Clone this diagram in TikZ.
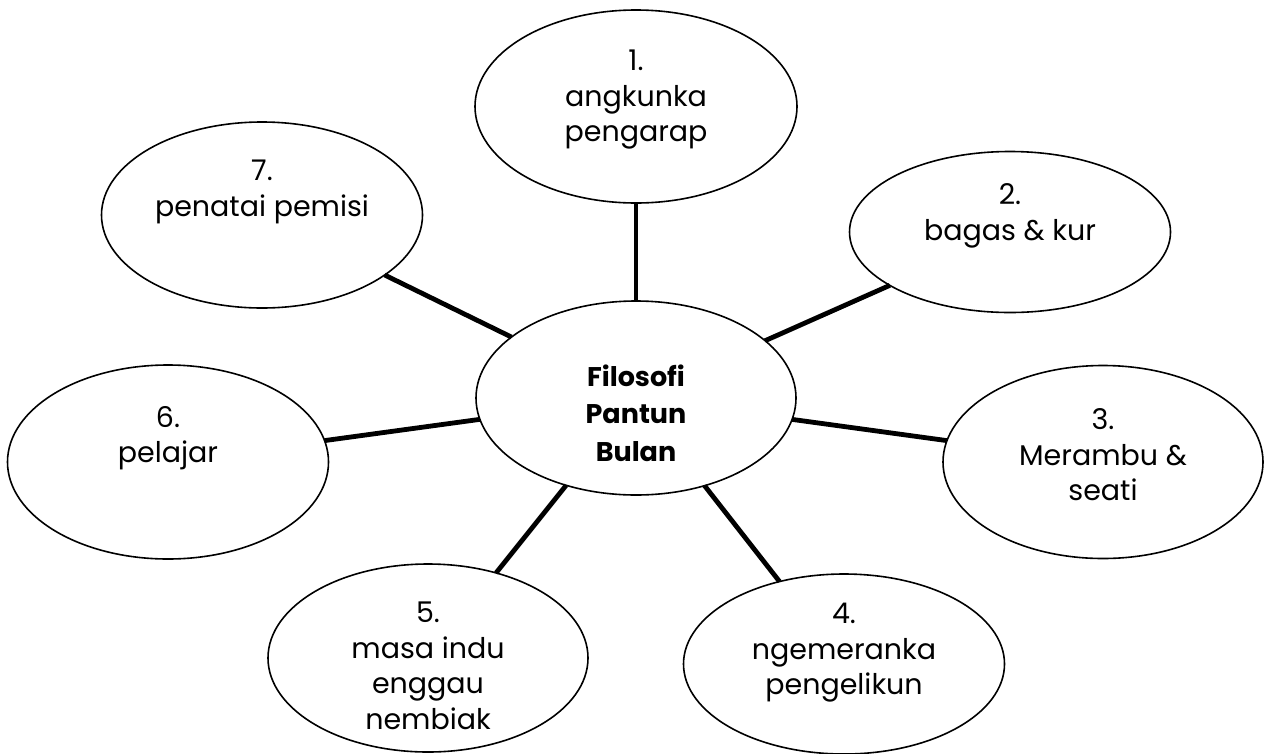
\documentclass[tikz,border=0pt]{standalone}
\usepackage{fontspec}
\setmainfont{Poppins}
\usetikzlibrary{shapes.geometric}
\tikzset{
  bubble/.style={draw=black, line width=1.6pt, ellipse, inner sep=0pt, outer sep=0pt, fill=white},
  spoke/.style={line width=4.8pt, black},
  label/.style={align=center, font=\fontsize{28.5}{35.5}\selectfont, inner sep=0pt},
  hub/.style={align=center, font=\fontsize{27}{37.5}\selectfont\bfseries, inner sep=0pt}
}
\begin{document}
\begin{tikzpicture}[x=1pt,y=-1pt]
\useasboundingbox[fill=white] (0,0) rectangle (1265,753);
\node[bubble, minimum width=320pt, minimum height=194pt] (c) at (636,398) {};
\node[bubble, minimum width=322pt, minimum height=193pt] (e1) at (636,106.5) {};
\node[bubble, minimum width=321pt, minimum height=161pt] (e2) at (1010,232) {};
\node[bubble, minimum width=320pt, minimum height=193pt] (e3) at (1103,462) {};
\node[bubble, minimum width=321pt, minimum height=180pt] (e4) at (844,664) {};
\node[bubble, minimum width=320pt, minimum height=188pt] (e5) at (428,658) {};
\node[bubble, minimum width=321pt, minimum height=194pt] (e6) at (168,462) {};
\node[bubble, minimum width=321pt, minimum height=186pt] (e7) at (262,215) {};
\foreach \e in {e1,e2,e3,e4,e5,e6,e7} \draw[spoke] (c) -- (\e);
\node[hub] (tc) at (636,413) {Filosofi\\Pantun\\Bulan};
\node[label] (t1) at (636,100) {1.\\angkunka\\pengarap};
\node[label] (t2) at (1010,216) {2.\\bagas \& kur};
\node[label] (t3) at (1103,455) {3.\\Merambu \&\\seati};
\node[label] (t4) at (844,653) {4.\\ngemeranka\\pengelikun};
\node[label] (t5) at (428,666) {5.\\masa indu\\enggau\\nembiak};
\node[label] (t6) at (168,438) {6.\\pelajar};
\node[label] (t7) at (262,192) {7.\\penatai pemisi};
\end{tikzpicture}
\end{document}
